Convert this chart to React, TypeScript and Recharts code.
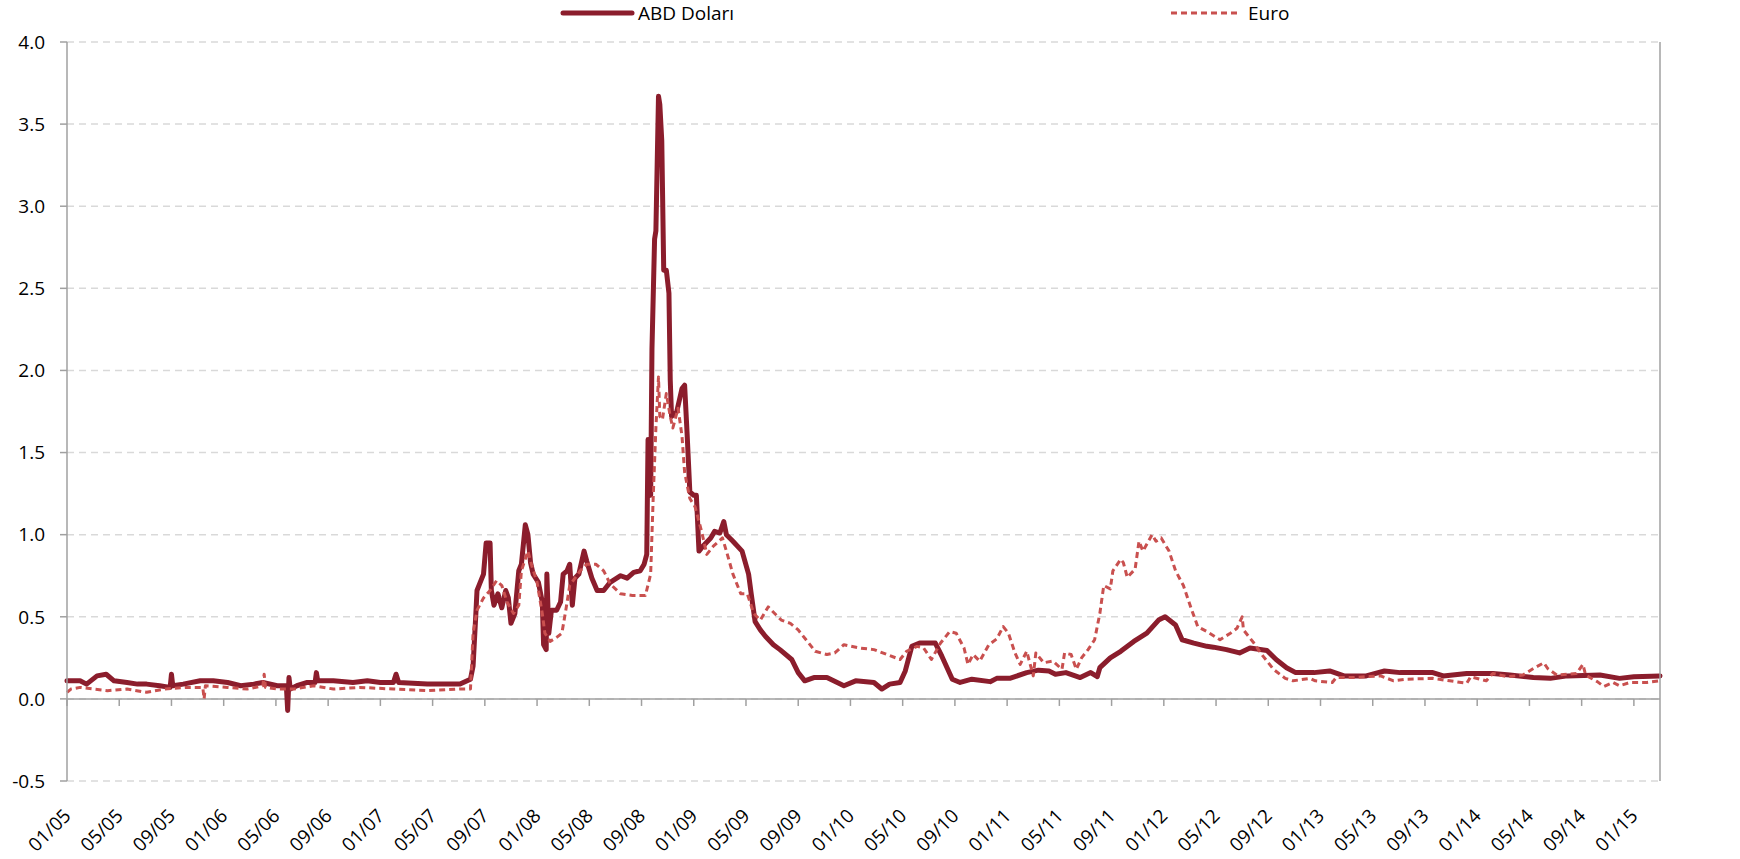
import React from 'react';
import { LineChart, Line, XAxis, YAxis, CartesianGrid, ReferenceLine, Legend } from 'recharts';

// months counted from 01/2005
const usdMonths = [
  0, 1.0, 1.5, 2.3, 3.0, 3.6, 4.6, 5.4, 6.1, 7.1, 7.9, 8.0, 8.1, 8.9, 10.2, 11.2, 12.3, 13.3, 14.3, 15.0,
  16.1, 16.8, 16.9, 17.0, 17.1, 17.6, 18.4, 19.0, 19.1, 19.2, 20.4, 21.9, 23.0, 24.0, 25.0, 25.2, 25.4, 27.6, 30.1, 30.9,
  31.1, 31.3, 31.4, 31.6, 31.9, 32.1, 32.4, 32.5, 32.7, 33.0, 33.3, 33.6, 33.8, 34.0, 34.3, 34.6, 34.8, 35.1, 35.3, 35.5,
  35.7, 36.1, 36.4, 36.5, 36.7, 36.75, 36.9, 37.1, 37.5, 37.8, 38.0, 38.3, 38.5, 38.7, 38.9, 39.2, 39.6, 39.8, 40.2, 40.6,
  41.1, 41.6, 42.4, 42.9, 43.4, 43.9, 44.2, 44.4, 44.5, 44.7, 44.8, 45.0, 45.1, 45.3, 45.4, 45.55, 45.7, 45.9, 46.1, 46.2,
  46.3, 46.7, 47.1, 47.3, 47.5, 47.7, 48.0, 48.2, 48.4, 48.7, 49.3, 49.6, 50.0, 50.3, 50.5, 51.0, 51.7, 52.2, 52.4, 52.7,
  53.1, 53.5, 54.1, 54.6, 55.5, 56.0, 56.5, 57.2, 58.2, 59.5, 60.4, 61.8, 62.4, 63.0, 63.8, 64.2, 64.7, 65.3, 66.5, 67.0,
  67.8, 68.4, 69.3, 70.7, 71.2, 72.2, 73.5, 74.4, 75.2, 75.7, 76.5, 77.6, 78.4, 78.9, 79.1, 79.9, 80.7, 81.7, 82.7, 83.6,
  84.1, 84.9, 85.4, 86.3, 87.3, 87.8, 88.8, 89.8, 90.6, 91.9, 92.6, 93.4, 94.1, 95.5, 96.7, 97.8, 99.5, 100.9, 102.1, 104.6,
  105.4, 107.2, 109.2, 110.5, 112.3, 113.6, 114.9, 117.4, 118.9, 120.0, 122.0,
];
const usdValues = [
  0.11, 0.11, 0.09, 0.14, 0.15, 0.11, 0.10, 0.09, 0.09, 0.08, 0.07, 0.15, 0.08, 0.09, 0.11, 0.11, 0.10, 0.08, 0.09, 0.10,
  0.08, 0.08, -0.07, 0.13, 0.06, 0.08, 0.10, 0.10, 0.16, 0.11, 0.11, 0.10, 0.11, 0.10, 0.10, 0.15, 0.10, 0.09, 0.09, 0.12,
  0.20, 0.50, 0.66, 0.70, 0.76, 0.95, 0.95, 0.66, 0.57, 0.64, 0.555, 0.66, 0.615, 0.46, 0.52, 0.78, 0.82, 1.06, 1.00, 0.83,
  0.76, 0.71, 0.59, 0.33, 0.30, 0.76, 0.40, 0.54, 0.54, 0.59, 0.76, 0.78, 0.82, 0.57, 0.735, 0.76, 0.90, 0.84, 0.735, 0.66,
  0.66, 0.71, 0.75, 0.735, 0.77, 0.78, 0.82, 0.88, 1.58, 1.24, 2.13, 2.80, 2.85, 3.67, 3.62, 3.40, 2.61, 2.61, 2.47, 1.94,
  1.72, 1.75, 1.89, 1.91, 1.60, 1.26, 1.24, 1.24, 0.90, 0.93, 0.98, 1.02, 1.01, 1.08, 1.00, 0.96, 0.90, 0.76, 0.64, 0.47,
  0.42, 0.38, 0.33, 0.30, 0.24, 0.16, 0.11, 0.13, 0.13, 0.08, 0.11, 0.10, 0.06, 0.09, 0.10, 0.17, 0.32, 0.34, 0.34, 0.26,
  0.12, 0.10, 0.12, 0.105, 0.125, 0.125, 0.16, 0.175, 0.17, 0.15, 0.16, 0.13, 0.16, 0.135, 0.19, 0.25, 0.29, 0.35, 0.40, 0.48,
  0.50, 0.45, 0.36, 0.34, 0.32, 0.315, 0.30, 0.28, 0.31, 0.295, 0.24, 0.19, 0.16, 0.16, 0.17, 0.14, 0.14, 0.17, 0.16, 0.16,
  0.14, 0.155, 0.155, 0.145, 0.13, 0.125, 0.14, 0.145, 0.125, 0.135, 0.14,
];

const eurMonths = [
  0, 0.3, 1.0, 2.0, 3.1, 4.6, 6.1, 7.5, 9.2, 10.4, 10.5, 10.6, 12.3, 13.8, 15.0, 15.1, 15.2, 16.1, 17.4, 18.9,
  20.4, 22.4, 25.0, 27.6, 30.1, 30.9, 31.1, 31.4, 31.9, 32.4, 32.9, 33.3, 33.7, 34.2, 34.6, 34.8, 35.3, 35.6, 36.0, 36.4,
  36.6, 37.0, 37.5, 37.9, 38.2, 38.5, 39.3, 39.8, 40.5, 41.1, 41.6, 42.4, 43.3, 44.3, 44.7, 44.9, 45.1, 45.3, 45.4, 45.6,
  45.9, 46.2, 46.4, 46.8, 47.1, 47.3, 47.7, 48.1, 48.6, 49.0, 49.5, 50.2, 50.5, 51.0, 51.6, 52.1, 52.6, 53.1, 53.7, 54.2,
  54.7, 55.4, 56.0, 56.7, 57.3, 58.2, 58.8, 59.5, 60.7, 61.8, 62.8, 63.8, 64.3, 65.1, 65.6, 66.2, 66.9, 67.6, 68.1, 68.7,
  69.0, 69.4, 69.9, 70.6, 71.2, 71.7, 72.1, 72.6, 73.0, 73.5, 74.0, 74.2, 74.8, 75.5, 76.2, 76.4, 76.9, 77.3, 77.7, 78.2,
  78.7, 79.1, 79.4, 79.9, 80.1, 80.7, 80.9, 81.2, 81.8, 82.1, 82.4, 83.1, 83.4, 83.8, 84.4, 84.9, 85.5, 86.1, 86.6, 87.3,
  88.3, 89.1, 89.6, 90.0, 90.1, 90.9, 91.6, 92.4, 93.3, 93.9, 95.2, 95.6, 96.9, 97.2, 98.5, 100.6, 101.6, 102.6, 104.6, 105.9,
  107.2, 107.5, 108.7, 109.2, 110.3, 111.5, 112.3, 113.1, 113.4, 114.1, 115.6, 116.1, 116.3, 117.2, 117.7, 118.4, 118.9, 119.7, 121.0, 122.0,
];
const eurValues = [
  0.04, 0.06, 0.07, 0.06, 0.05, 0.06, 0.04, 0.06, 0.07, 0.07, 0.00, 0.08, 0.07, 0.06, 0.08, 0.15, 0.07, 0.06, 0.06, 0.08,
  0.06, 0.07, 0.06, 0.05, 0.06, 0.06, 0.40, 0.54, 0.615, 0.66, 0.72, 0.69, 0.59, 0.52, 0.57, 0.78, 0.90, 0.81, 0.71, 0.52,
  0.40, 0.35, 0.375, 0.40, 0.54, 0.69, 0.78, 0.82, 0.82, 0.78, 0.70, 0.64, 0.63, 0.63, 0.76, 1.24, 1.65, 1.96, 1.72, 1.70,
  1.86, 1.72, 1.65, 1.77, 1.60, 1.38, 1.22, 1.17, 1.02, 0.88, 0.93, 0.98, 0.90, 0.76, 0.64, 0.64, 0.52, 0.48, 0.56, 0.52,
  0.48, 0.46, 0.42, 0.35, 0.29, 0.27, 0.28, 0.33, 0.31, 0.30, 0.27, 0.24, 0.29, 0.32, 0.31, 0.24, 0.34, 0.41, 0.40, 0.31,
  0.21, 0.27, 0.23, 0.33, 0.365, 0.44, 0.40, 0.28, 0.21, 0.29, 0.14, 0.28, 0.22, 0.23, 0.18, 0.28, 0.27, 0.18, 0.25, 0.30,
  0.36, 0.52, 0.69, 0.67, 0.78, 0.85, 0.83, 0.74, 0.79, 0.96, 0.90, 1.00, 0.96, 0.98, 0.90, 0.78, 0.69, 0.55, 0.44, 0.41,
  0.36, 0.40, 0.43, 0.50, 0.42, 0.34, 0.26, 0.18, 0.125, 0.11, 0.125, 0.11, 0.10, 0.13, 0.13, 0.14, 0.11, 0.12, 0.125, 0.11,
  0.095, 0.135, 0.11, 0.155, 0.135, 0.145, 0.185, 0.22, 0.185, 0.145, 0.155, 0.21, 0.145, 0.105, 0.075, 0.10, 0.08, 0.10, 0.10, 0.11,
];

const tickLabels = [
  '01/05', '05/05', '09/05', '01/06', '05/06', '09/06', '01/07', '05/07', '09/07', '01/08', '05/08',
  '09/08', '01/09', '05/09', '09/09', '01/10', '05/10', '09/10', '01/11', '05/11', '09/11', '01/12',
  '05/12', '09/12', '01/13', '05/13', '09/13', '01/14', '05/14', '09/14', '01/15',
];
const yTicks = [-0.5, 0, 0.5, 1, 1.5, 2, 2.5, 3, 3.5, 4];

const usdData = usdMonths.map((t, i) => ({ t, usd: usdValues[i] }));
const eurData = eurMonths.map((t, i) => ({ t, eur: eurValues[i] }));
const tickMonths = tickLabels.map((_, i) => i * 4);

const USD_COLOR = '#8B1D2C';
const EUR_COLOR = '#C9504F';
const AXIS_COLOR = '#A0A0A0';
const FONT = '"Open Sans", Lato, sans-serif';
const FONT_SIZE = 19;

const MonthTick = (props: any) => {
  const { x, y, payload } = props;
  const label = tickLabels[Math.round(payload.value / 4)];
  const ax = x + 5;
  const ay = y + 36;
  return (
    <text x={ax} y={ay} transform={`rotate(-45 ${ax} ${ay})`} textAnchor="end" fontSize={FONT_SIZE} fill="#000" fontFamily={FONT}>
      {label}
    </text>
  );
};

const LegendBox = () => (
  <svg width={1740} height={30} style={{ display: 'block' }}>
    <line x1={563} y1={13} x2={632} y2={13} stroke={USD_COLOR} strokeWidth={5} strokeLinecap="round" />
    <text x={638} y={13} dominantBaseline="central" fontSize={FONT_SIZE} fill="#000" fontFamily={FONT}>ABD Doları</text>
    <line x1={1171} y1={13} x2={1240} y2={13} stroke={EUR_COLOR} strokeWidth={3} strokeDasharray="6 4" />
    <text x={1248} y={13} dominantBaseline="central" fontSize={FONT_SIZE} fill="#000" fontFamily={FONT}>Euro</text>
  </svg>
);

export default function App() {
  return (
    <div style={{ position: 'absolute', left: 0, top: 0, width: 1740, height: 859, background: '#fff', fontFamily: FONT }}>
      <LineChart width={1740} height={859} margin={{ top: 42, right: 0, bottom: 0, left: 0 }}>
        <CartesianGrid yAxisId="left" vertical={false} stroke="#D9D9D9" strokeWidth={1.5} strokeDasharray="7 5" />
        <XAxis
          dataKey="t"
          type="number"
          domain={[0, 122]}
          ticks={tickMonths}
          interval={0}
          axisLine={false}
          tickLine={false}
          tickSize={0}
          tickMargin={0}
          height={78}
          tick={<MonthTick />}
          allowDuplicatedCategory={false}
        />
        <YAxis
          yAxisId="left"
          type="number"
          domain={[-0.5, 4]}
          ticks={yTicks}
          interval={0}
          width={67}
          tickSize={7}
          tickMargin={15}
          axisLine={{ stroke: AXIS_COLOR, strokeWidth: 1.5 }}
          tickLine={{ stroke: AXIS_COLOR, strokeWidth: 1.5 }}
          tick={{ fontSize: FONT_SIZE, fill: '#000', fontFamily: FONT }}
          tickFormatter={(v: number) => v.toFixed(1)}
        />
        <YAxis
          yAxisId="right"
          orientation="right"
          type="number"
          domain={[-0.5, 4]}
          ticks={yTicks}
          interval={0}
          width={80}
          tickSize={7}
          tickMargin={16}
          axisLine={{ stroke: AXIS_COLOR, strokeWidth: 1.5 }}
          tickLine={{ stroke: AXIS_COLOR, strokeWidth: 1.5 }}
          tick={{ fontSize: FONT_SIZE, fill: '#000', fontFamily: FONT }}
          tickFormatter={(v: number) => v.toFixed(1)}
        />
        <ReferenceLine yAxisId="left" y={0} stroke={AXIS_COLOR} strokeWidth={1.5} />
        {tickMonths.map((m) => (
          <ReferenceLine
            key={m}
            yAxisId="left"
            segment={[{ x: m, y: 0 }, { x: m, y: -0.043 }]}
            stroke={AXIS_COLOR}
            strokeWidth={1.5}
          />
        ))}
        <Line
          yAxisId="left"
          data={usdData}
          dataKey="usd"
          name="ABD Doları"
          type="linear"
          stroke={USD_COLOR}
          strokeWidth={5}
          strokeLinejoin="round"
          strokeLinecap="round"
          dot={false}
          activeDot={false}
          isAnimationActive={false}
        />
        <Line
          yAxisId="left"
          data={eurData}
          dataKey="eur"
          name="Euro"
          type="linear"
          stroke={EUR_COLOR}
          strokeWidth={3}
          strokeDasharray="6 4"
          strokeLinejoin="round"
          dot={false}
          activeDot={false}
          isAnimationActive={false}
        />
        <Legend
          verticalAlign="middle"
          align="center"
          layout="horizontal"
          wrapperStyle={{ top: 0, left: 0, width: 1740, height: 30 }}
          content={() => <LegendBox />}
        />
      </LineChart>
    </div>
  );
}
